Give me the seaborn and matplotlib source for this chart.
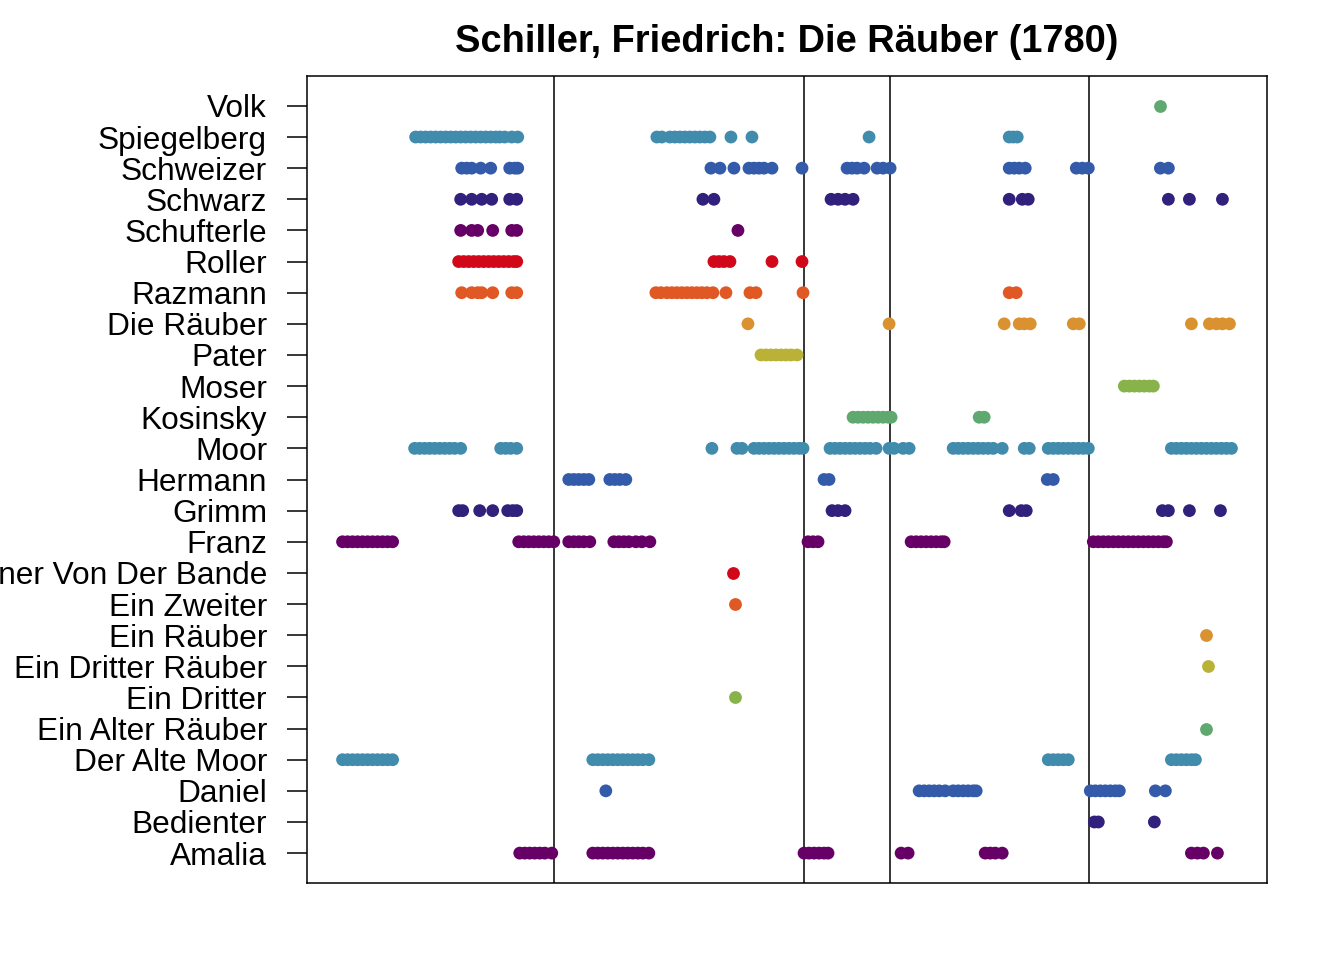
import matplotlib
matplotlib.use("Agg")
import matplotlib.pyplot as plt
import seaborn as sns
from pandas import DataFrame

TITLE = "Schiller, Friedrich: Die Räuber (1780)"

# characters from top to bottom of the y axis
CHARACTERS = [
    "Volk", "Spiegelberg", "Schweizer", "Schwarz", "Schufterle", "Roller",
    "Razmann", "Die Räuber", "Pater", "Moser", "Kosinsky", "Moor", "Hermann",
    "Grimm", "Franz", "Einer Von Der Bande", "Ein Zweiter", "Ein Räuber",
    "Ein Dritter Räuber", "Ein Dritter", "Ein Alter Räuber", "Der Alte Moor",
    "Daniel", "Bedienter", "Amalia",
]

# utterance positions (index in the play) for every character
volk = [817]
spiegelberg = [73, 78, 83, 88, 93, 98, 103, 108, 113, 118, 123, 128, 133, 138, 143, 148, 153, 157, 162, 169, 175,
               314, 319, 327, 332, 337, 342, 347, 352, 357, 362, 367, 388, 409, 526, 666, 670, 674]
schweizer = [119, 124, 129, 138, 148, 167, 172, 175, 368, 377, 391, 406, 411, 416, 421, 429, 459,
             504, 509, 514, 521, 534, 540, 547, 666, 671, 676, 682, 733, 739, 745, 817, 825]
schwarz = [118, 129, 139, 149, 167, 174, 360, 371, 488, 495, 502, 510, 666, 679, 685, 825, 846, 879]
schufterle = [118, 129, 135, 150, 169, 174, 395]
roller = [116, 121, 126, 131, 136, 141, 146, 151, 156, 161, 166, 171, 174, 371, 376, 381, 387, 429, 459]
razmann = [119, 129, 135, 139, 150, 169, 174, 313, 318, 324, 329, 334, 339, 344, 349, 354, 359, 364, 370,
           383, 407, 413, 460, 666, 673]
die_raeuber = [405, 546, 661, 676, 681, 687, 730, 736, 848, 866, 873, 879, 886]
pater = [418, 423, 428, 433, 438, 443, 448, 454]
moser = [781, 786, 791, 796, 801, 806, 810]
kosinsky = [510, 515, 520, 525, 530, 535, 540, 545, 548, 636, 641]
moor = [72, 77, 82, 87, 92, 97, 102, 107, 112, 118, 158, 163, 168, 174, 369, 394, 399,
        411, 416, 421, 426, 431, 436, 441, 446, 451, 456, 460,
        487, 492, 497, 502, 507, 512, 517, 522, 527, 533, 546, 551, 560, 566,
        610, 615, 620, 625, 630, 635, 640, 645, 650, 659, 681, 686,
        705, 710, 715, 720, 725, 730, 735, 740, 745,
        828, 833, 838, 843, 848, 853, 858, 863, 868, 873, 878, 883, 888]
hermann = [226, 231, 236, 241, 246, 267, 272, 277, 283, 481, 486, 704, 710]
grimm = [116, 120, 137, 150, 165, 170, 174, 489, 495, 502, 666, 678, 683, 819, 825, 846, 877]
franz = [0, 5, 10, 15, 20, 25, 30, 35, 40, 45, 50, 176, 181, 186, 191, 196, 201, 206, 211,
         226, 231, 236, 241, 247, 271, 276, 281, 286, 293, 299, 307, 465, 470, 475,
         568, 573, 578, 583, 588, 593, 598, 601,
         750, 755, 760, 765, 770, 775, 780, 785, 790, 795, 800, 805, 810, 815, 820, 823]
einer_von_der_bande = [390]
ein_zweiter = [392]
ein_raeuber = [863]
ein_dritter_raeuber = [865]
ein_dritter = [392]
ein_alter_raeuber = [863]
der_alte_moor = [0, 5, 10, 15, 20, 25, 30, 35, 40, 45, 50,
                 250, 255, 260, 265, 270, 275, 280, 285, 290, 295, 300, 306,
                 705, 710, 715, 720, 725, 828, 833, 838, 843, 848, 852]
daniel = [263, 576, 581, 586, 591, 596, 602, 610, 615, 620, 625, 630, 633,
          747, 752, 757, 762, 767, 772, 776, 812, 822]
bedienter = [751, 755, 811]
amalia = [177, 182, 187, 192, 197, 202, 209, 250, 255, 260, 265, 270, 275, 280, 285, 290, 295, 300, 306,
          461, 466, 471, 476, 481, 485, 558, 565, 642, 647, 652, 659, 848, 854, 860, 874]

UTTERANCES = [volk, spiegelberg, schweizer, schwarz, schufterle, roller, razmann, die_raeuber, pater,
              moser, kosinsky, moor, hermann, grimm, franz, einer_von_der_bande, ein_zweiter, ein_raeuber,
              ein_dritter_raeuber, ein_dritter, ein_alter_raeuber, der_alte_moor, daniel, bedienter, amalia]

# act boundaries
ACT_BREAKS = [211, 461, 547, 746]

# colour cycle, starting with the bottom character
PALETTE = ["#660066", "#32207D", "#335BAA", "#418BAC", "#5FA870",
           "#88B24A", "#BAB237", "#DA9230", "#E05824", "#D0081A"]

rows = []
for character, positions in zip(CHARACTERS, UTTERANCES):
    for pos in positions:
        rows.append({"Character": character, "Utterance": pos})
df = DataFrame(rows)

n = len(CHARACTERS)
colors = {c: PALETTE[(n - 1 - i) % len(PALETTE)] for i, c in enumerate(CHARACTERS)}

sns.set_style("white")
plt.rcParams["font.family"] = ["Liberation Sans", "DejaVu Sans"]
plt.rcParams["text.color"] = "black"
plt.rcParams["ytick.color"] = "black"
plt.rcParams["ytick.labelcolor"] = "black"

fig = plt.figure(figsize=(13.44, 9.6), dpi=100)
ax = fig.add_axes([307 / 1344, 77 / 960, 960 / 1344, 807 / 960])

sns.stripplot(data=df, x="Utterance", y="Character", hue="Character", order=CHARACTERS,
              palette=colors, jitter=False, size=9.2, linewidth=0, legend=False, ax=ax)

for b in ACT_BREAKS:
    ax.axvline(b, color="black", lw=1.1)

# R style 4% padding
lo, hi = df["Utterance"].min(), df["Utterance"].max()
pad = 0.04 * (hi - lo)
ax.set_xlim(lo - pad, hi + pad)
ax.set_ylim(n - 1 + 0.04 * (n - 1), -0.04 * (n - 1))

ax.set_xticks([])
ax.set_xlabel("")
ax.set_ylabel("")
ax.tick_params(axis="y", left=True, length=14.4, width=1.1, pad=14.4, labelsize=22.8,
               color="black", labelcolor="black")
for s in ax.spines.values():
    s.set_visible(True)
    s.set_color("black")
    s.set_linewidth(1.1)

ax.set_title(TITLE, fontsize=27.4, fontweight="bold", pad=17, color="black")

fig.savefig("out.png", dpi=100)
